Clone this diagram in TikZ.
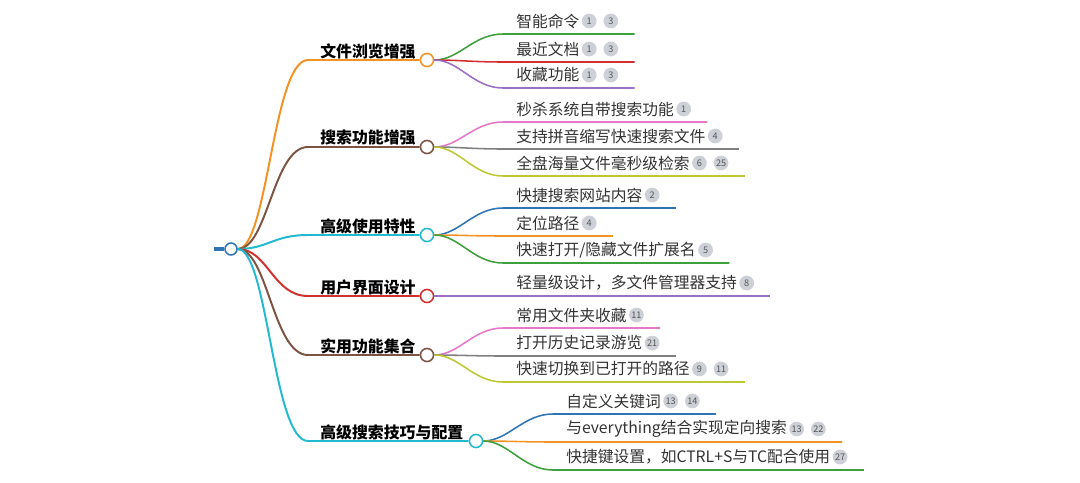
\documentclass[tikz,border=0pt]{standalone}
\usepackage{fontspec}
\setmainfont{Noto Sans CJK SC}
\usepackage{xcolor}
\usepackage{tikz}
\usetikzlibrary{positioning}

\definecolor{cblue}{RGB}{46,117,182}
\definecolor{corange}{RGB}{243,146,36}
\definecolor{cbrown}{RGB}{125,84,66}
\definecolor{ccyan}{RGB}{34,186,208}
\definecolor{cred}{RGB}{211,47,47}
\definecolor{cgreen}{RGB}{60,160,60}
\definecolor{cpurple}{RGB}{155,110,200}
\definecolor{cpink}{RGB}{230,120,200}
\definecolor{cgrey}{RGB}{128,128,128}
\definecolor{colive}{RGB}{190,200,50}
\definecolor{ctext}{RGB}{51,51,51}
\definecolor{cbadge}{RGB}{205,209,215}
\definecolor{cbadgetext}{RGB}{85,85,85}

\begin{document}
\begin{tikzpicture}[x=0.025cm, y=-0.025cm,
    topic/.style={inner sep=0pt, anchor=west, font=\fontsize{11.3}{13}\selectfont\bfseries},
    leaf/.style={inner sep=0pt, anchor=west, text=ctext, font=\fontsize{11.2}{13}\selectfont},
    badge/.style={circle, fill=cbadge, text=cbadgetext, inner sep=0pt, minimum size=10.5pt, font=\fontsize{6.5}{6.5}\selectfont},
    dot/.style={circle, draw, fill=white, line width=1.1pt, inner sep=0pt, minimum size=9.3pt},
    main/.style={line width=1.4pt},
    sub/.style={line width=1.1pt}]
    \useasboundingbox (0,0) rectangle (1080,482);

    % Raiz
    \coordinate (stub) at (214,249);
    \node[dot, draw=cblue, minimum size=8.5pt] (root) at (231,249) {};
    \draw[cblue, line width=2.8pt] (stub) -- (root.west);

    % Ramos principais
    \node[topic] (browse) at (320,51) {文件浏览增强};
    \node[dot, draw=corange] (browse-o) at (427,60) {};
    \node[topic] (search) at (320,138) {搜索功能增强};
    \node[dot, draw=cbrown] (search-o) at (427,147) {};
    \node[topic] (advanced) at (320,226) {高级使用特性};
    \node[dot, draw=ccyan] (advanced-o) at (427,235) {};
    \node[topic] (ui) at (320,287) {用户界面设计};
    \node[dot, draw=cred] (ui-o) at (427,296) {};
    \node[topic] (practical) at (320,346) {实用功能集合};
    \node[dot, draw=cbrown] (practical-o) at (427,355) {};
    \node[topic] (tricks) at (320,432) {高级搜索技巧与配置};
    \node[dot, draw=ccyan] (tricks-o) at (476,441) {};

    \draw[main, corange] (root.east) .. controls +(30,0) and +(-35,0) .. (308,60) -- (browse-o.west);
    \draw[main, cbrown] (root.east) .. controls +(30,0) and +(-35,0) .. (308,147) -- (search-o.west);
    \draw[main, ccyan] (root.east) .. controls +(30,0) and +(-35,0) .. (308,235) -- (advanced-o.west);
    \draw[main, cred] (root.east) .. controls +(30,0) and +(-35,0) .. (308,296) -- (ui-o.west);
    \draw[main, cbrown] (root.east) .. controls +(30,0) and +(-35,0) .. (308,355) -- (practical-o.west);
    \draw[main, ccyan] (root.east) .. controls +(30,0) and +(-35,0) .. (308,441) -- (tricks-o.west);

    % Folhas: 文件浏览增强
    \node[leaf] (smart) at (516,21) {智能命令};
    \node[badge, right=1.4pt of smart] (smart-a) {1};
    \node[badge, right=4.5pt of smart-a] (smart-b) {3};
    \node[leaf] (recent) at (516,49) {最近文档};
    \node[badge, right=1.4pt of recent] (recent-a) {1};
    \node[badge, right=4.5pt of recent-a] (recent-b) {3};
    \node[leaf] (collect) at (516,75) {收藏功能};
    \node[badge, right=1.4pt of collect] (collect-a) {1};
    \node[badge, right=4.5pt of collect-a] (collect-b) {3};
    \draw[sub, cgreen] (browse-o.east) .. controls +(25,0) and +(-30,0) .. (503,34) -- (smart-b.east |- 0,34) -- ++(16,0);
    \draw[sub, cred] (browse-o.east) .. controls +(25,0) and +(-30,0) .. (503,62) -- (recent-b.east |- 0,62) -- ++(16,0);
    \draw[sub, cpurple] (browse-o.east) .. controls +(25,0) and +(-30,0) .. (503,88) -- (collect-b.east |- 0,88) -- ++(16,0);

    % Folhas: 搜索功能增强
    \node[leaf] (native) at (516,109) {秒杀系统自带搜索功能};
    \node[badge, right=1.4pt of native] (native-a) {1};
    \node[leaf] (pinyin) at (516,136) {支持拼音缩写快速搜索文件};
    \node[badge, right=1.4pt of pinyin] (pinyin-a) {4};
    \node[leaf] (instant) at (516,163) {全盘海量文件毫秒级检索};
    \node[badge, right=1.4pt of instant] (instant-a) {6};
    \node[badge, right=4.5pt of instant-a] (instant-b) {25};
    \draw[sub, cpink] (search-o.east) .. controls +(25,0) and +(-30,0) .. (503,122) -- (native-a.east |- 0,122) -- ++(16,0);
    \draw[sub, cgrey] (search-o.east) .. controls +(25,0) and +(-30,0) .. (503,149) -- (pinyin-a.east |- 0,149) -- ++(16,0);
    \draw[sub, colive] (search-o.east) .. controls +(25,0) and +(-30,0) .. (503,176) -- (instant-b.east |- 0,176) -- ++(16,0);

    % Folhas: 高级使用特性
    \node[leaf] (website) at (516,195) {快捷搜索网站内容};
    \node[badge, right=1.4pt of website] (website-a) {2};
    \node[leaf] (locate) at (516,223) {定位路径};
    \node[badge, right=1.4pt of locate] (locate-a) {4};
    \node[leaf] (extension) at (516,250) {快速打开/隐藏文件扩展名};
    \node[badge, right=1.4pt of extension] (extension-a) {5};
    \draw[sub, cblue] (advanced-o.east) .. controls +(25,0) and +(-30,0) .. (503,208) -- (website-a.east |- 0,208) -- ++(16,0);
    \draw[sub, corange] (advanced-o.east) .. controls +(25,0) and +(-30,0) .. (503,236) -- (locate-a.east |- 0,236) -- ++(16,0);
    \draw[sub, cgreen] (advanced-o.east) .. controls +(25,0) and +(-30,0) .. (503,263) -- (extension-a.east |- 0,263) -- ++(16,0);

    % Folhas: 用户界面设计
    \node[leaf] (lightweight) at (516,283) {轻量级设计，多文件管理器支持};
    \node[badge, right=1.4pt of lightweight] (lightweight-a) {8};
    \draw[sub, cpurple] (ui-o.east) -- (lightweight-a.east |- 0,296) -- ++(16,0);

    % Folhas: 实用功能集合
    \node[leaf] (folders) at (516,315) {常用文件夹收藏};
    \node[badge, right=1.4pt of folders] (folders-a) {11};
    \node[leaf] (history) at (516,343) {打开历史记录游览};
    \node[badge, right=1.4pt of history] (history-a) {21};
    \node[leaf] (switch) at (516,369) {快速切换到已打开的路径};
    \node[badge, right=1.4pt of switch] (switch-a) {9};
    \node[badge, right=4.5pt of switch-a] (switch-b) {11};
    \draw[sub, cpink] (practical-o.east) .. controls +(25,0) and +(-30,0) .. (503,328) -- (folders-a.east |- 0,328) -- ++(16,0);
    \draw[sub, cgrey] (practical-o.east) .. controls +(25,0) and +(-30,0) .. (503,356) -- (history-a.east |- 0,356) -- ++(16,0);
    \draw[sub, colive] (practical-o.east) .. controls +(25,0) and +(-30,0) .. (503,382) -- (switch-b.east |- 0,382) -- ++(16,0);

    % Folhas: 高级搜索技巧与配置
    \node[leaf] (keywords) at (566,401) {自定义关键词};
    \node[badge, right=1.4pt of keywords] (keywords-a) {13};
    \node[badge, right=4.5pt of keywords-a] (keywords-b) {14};
    \node[leaf] (everything) at (566,429) {与everything结合实现定向搜索};
    \node[badge, right=1.4pt of everything] (everything-a) {13};
    \node[badge, right=4.5pt of everything-a] (everything-b) {22};
    \node[leaf] (hotkey) at (566,457) {快捷键设置，如CTRL+S与TC配合使用};
    \node[badge, right=1.4pt of hotkey] (hotkey-a) {27};
    \draw[sub, cblue] (tricks-o.east) .. controls +(25,0) and +(-30,0) .. (553,414) -- (keywords-b.east |- 0,414) -- ++(16,0);
    \draw[sub, corange] (tricks-o.east) .. controls +(25,0) and +(-30,0) .. (553,442) -- (everything-b.east |- 0,442) -- ++(16,0);
    \draw[sub, cgreen] (tricks-o.east) .. controls +(25,0) and +(-30,0) .. (553,470) -- (hotkey-a.east |- 0,470) -- ++(16,0);
\end{tikzpicture}
\end{document}
